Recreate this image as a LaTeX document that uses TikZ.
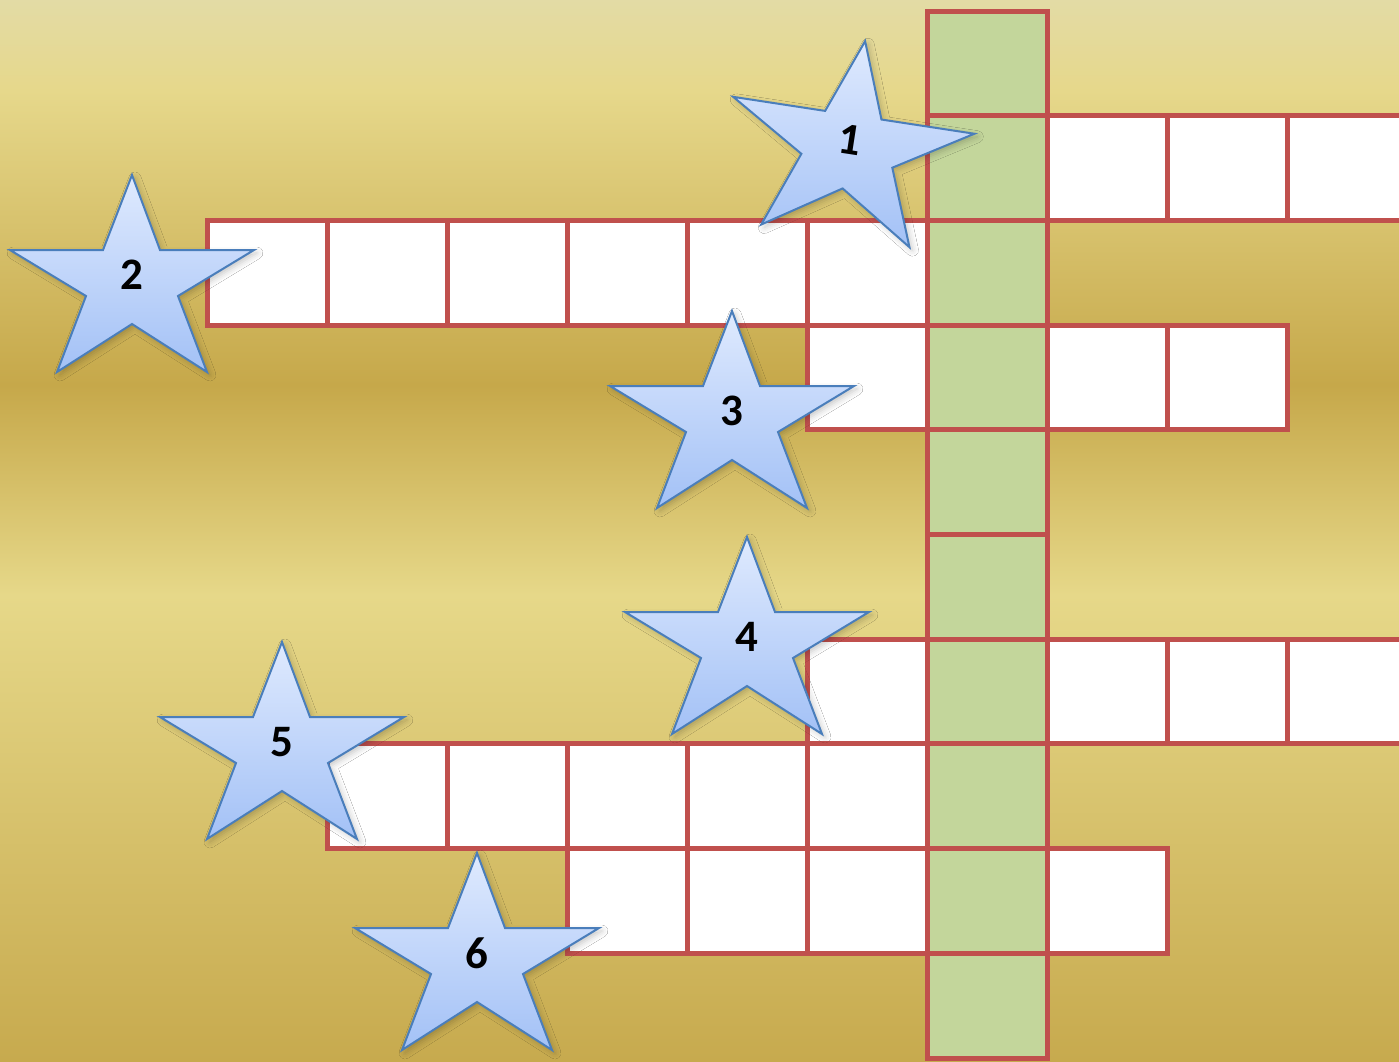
\documentclass[tikz,border=0pt]{standalone}
\usepackage{fontspec}
\setmainfont{Carlito}
\usetikzlibrary{shadows.blur}

\definecolor{gridred}{HTML}{C0504D}
\definecolor{keygreen}{HTML}{C3D69B}
\definecolor{starline}{HTML}{4A7EBB}
\definecolor{startop}{HTML}{DFEAFE}
\definecolor{starbot}{HTML}{A3C1F6}
\definecolor{bgA}{HTML}{E3DBA5}
\definecolor{bgB}{HTML}{E6D88B}
\definecolor{bgC}{HTML}{C6A84A}
\definecolor{bgD}{HTML}{E6D889}
\definecolor{bgE}{HTML}{C7AA4E}

\tikzset{
  cell/.style={fill=white,draw=gridred,line width=5pt},
  keycell/.style={cell,fill=keygreen},
  clue star/.style={draw=starline,line width=2pt,top color=startop,bottom color=starbot,
    line join=miter,blur shadow={shadow xshift=3pt,shadow yshift=-3pt,shadow opacity=22,shadow blur radius=6pt}},
  clue num/.style={inner sep=0pt,transform shape,font=\fontsize{45}{50}\selectfont\bfseries},
  clue/.pic={
    \path[clue star] (0,-100) -- (28,-25) -- (122,-25) -- (46,21) -- (75,97) -- (0,49)
      -- (-75,97) -- (-46,21) -- (-122,-25) -- (-29,-25) -- cycle;
    \node[clue num] (-num) at (0,0) {#1};
  }
}

\begin{document}
\begin{tikzpicture}[x=1pt,y=-1pt]
\path[use as bounding box] (0,0) rectangle (1399,1061);
% background bands
\shade[top color=bgA,bottom color=bgB] (0,0) rectangle (1399,90);
\shade[top color=bgB,bottom color=bgC] (0,90) rectangle (1399,385);
\shade[top color=bgC,bottom color=bgD] (0,385) rectangle (1399,595);
\shade[top color=bgD,bottom color=bgE] (0,595) rectangle (1399,1061);
% white cells
\foreach \c/\r in {7/1,8/1,9/1, 0/2,1/2,2/2,3/2,4/2,5/2, 5/3,7/3,8/3,
    5/6,7/6,8/6,9/6, 1/7,2/7,3/7,4/7,5/7, 3/8,4/8,5/8,7/8}
  \path[cell] ({207+120*\c},{11+104.7*\r}) rectangle ++(120,104.7);
% key column
\foreach \r in {0,...,9}
  \path[keycell] (927,{11+104.7*\r}) rectangle ++(120,104.7);
% clue stars
\pic[rotate=-8.7] (s1) at (850,140) {clue=1};
\pic (s2) at (132,275) {clue=2};
\pic (s3) at (732,411) {clue=3};
\pic (s4) at (747,637) {clue=4};
\pic (s5) at (282,742) {clue=5};
\pic (s6) at (477,953) {clue=6};
\end{tikzpicture}
\end{document}
